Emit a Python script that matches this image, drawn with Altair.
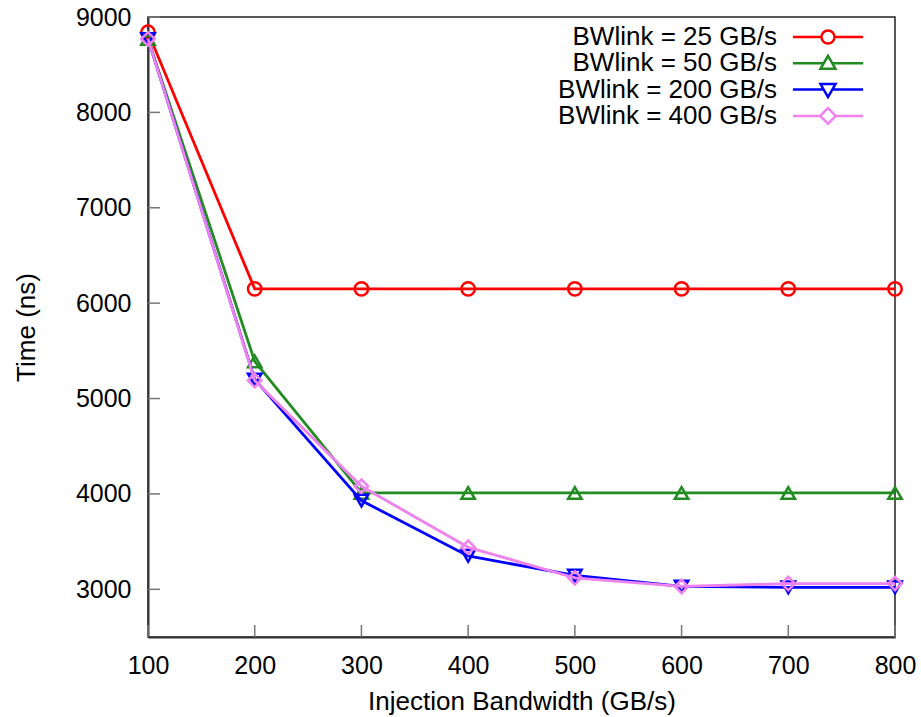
import altair as alt
import pandas as pd

# ---- data ----
injection_bw = [100, 200, 300, 400, 500, 600, 700, 800]
series_names = ["BWlink = 25 GB/s", "BWlink = 50 GB/s", "BWlink = 200 GB/s", "BWlink = 400 GB/s"]
time_25 = [8840, 6150, 6150, 6150, 6150, 6150, 6150, 6150]
time_50 = [8770, 5390, 4010, 4010, 4010, 4010, 4010, 4010]
time_200 = [8770, 5200, 3930, 3350, 3145, 3030, 3020, 3020]
time_400 = [8770, 5190, 4080, 3440, 3120, 3030, 3060, 3060]
x_ticks = [100, 200, 300, 400, 500, 600, 700, 800]
y_ticks = [3000, 4000, 5000, 6000, 7000, 8000, 9000]

colors = ["#ff0000", "#228b22", "#0000ff", "#ee82ee"]
shapes = ["circle", "triangle-up", "triangle-down", "diamond"]
# legend glyphs: line segment with the marker in the middle
legend_paths = [
    "M-5.4,0L-1,0M1,0L5.4,0M1,0C1,0.552,0.552,1,0,1C-0.552,1,-1,0.552,-1,0C-1,-0.552,-0.552,-1,0,-1C0.552,-1,1,-0.552,1,0Z",
    "M-5.4,0L-0.66,0M0.66,0L5.4,0M0,-1.15L1.15,0.85L-1.15,0.85Z",
    "M-5.4,0L-0.66,0M0.66,0L5.4,0M0,1.15L1.15,-0.85L-1.15,-0.85Z",
    "M-5.4,0L-1.2,0M1.2,0L5.4,0M0,-1.2L1.2,0L0,1.2L-1.2,0Z",
]

rows = []
for name, vals in zip(series_names, [time_25, time_50, time_200, time_400]):
    for i, (x, t) in enumerate(zip(injection_bw, vals)):
        rows.append({"series": name, "bw": x, "time": t, "idx": i})
df = pd.DataFrame(rows)

FONT = "Liberation Sans"

x_enc = alt.X(
    "bw:Q",
    scale=alt.Scale(domain=[100, 800], nice=False, zero=False),
    axis=alt.Axis(
        values=x_ticks, format="d", title="Injection Bandwidth (GB/s)", grid=False,
        ticks=False, labelPadding=16, titlePadding=10, labelFlush=False,
        domainColor="#333333", domainWidth=2,
    ),
)
y_enc = alt.Y(
    "time:Q",
    scale=alt.Scale(domain=[2500, 9000], nice=False, zero=False),
    axis=alt.Axis(
        values=y_ticks, format="d", title="Time (ns)", grid=False,
        ticks=False, labelPadding=17, titlePadding=36, labelFlush=False,
        domainColor="#333333", domainWidth=2,
    ),
)

base = alt.Chart(df)

# inward tick marks (gnuplot style)
y_tick_rules = alt.Chart(pd.DataFrame({"time": y_ticks})).mark_rule(
    color="#777777", strokeWidth=1.5
).encode(y=y_enc, x=alt.value(0), x2=alt.value(12))
x_tick_rules = alt.Chart(pd.DataFrame({"bw": x_ticks})).mark_rule(
    color="#777777", strokeWidth=1.5
).encode(x=x_enc, y=alt.value(620), y2=alt.value(608))

series_layers = []
for name, col, shp in zip(series_names, colors, shapes):
    sub = base.transform_filter(alt.datum.series == name)
    series_layers.append(
        sub.mark_line(color=col, strokeWidth=2.8).encode(x=x_enc, y=y_enc, order="idx:Q")
    )
    series_layers.append(
        sub.mark_point(shape=shp, color=col, filled=False, size=180, strokeWidth=2.5, opacity=1)
        .encode(x=x_enc, y=y_enc)
    )

legend_kwargs = dict(
    orient="none", legendX=367, legendY=7, title=None,
    labelFont=FONT, labelFontSize=26, labelColor="black", labelAlign="right",
    labelOffset={"expr": "-64"}, labelLimit=400, symbolOffset=300, symbolSize=169,
    symbolStrokeWidth=2.5, symbolOpacity=1, rowPadding=0.3, padding=0,
)

legend_layer = base.mark_point(filled=False, opacity=0, size=169, strokeWidth=2.5).encode(
    x=x_enc, y=y_enc,
    color=alt.Color("series:N", scale=alt.Scale(domain=series_names, range=colors),
                    legend=alt.Legend(**legend_kwargs)),
    shape=alt.Shape("series:N", scale=alt.Scale(domain=series_names, range=legend_paths),
                    legend=alt.Legend(**legend_kwargs)),
)

chart = (
    alt.layer(y_tick_rules, x_tick_rules, *series_layers, legend_layer)
    .properties(
        width=747, height=620,
        autosize=alt.AutoSizeParams(type="none"),
        padding={"left": 148, "top": 17, "right": 26, "bottom": 80},
        background="white",
    )
    .configure_view(stroke="#222222", strokeWidth=1.5)
    .configure_axis(
        labelFont=FONT, labelFontSize=25, labelColor="black",
        titleFont=FONT, titleFontSize=26, titleColor="black", titleFontWeight="normal",
    )
)

chart.save("out.html", embed_options={"renderer": "svg", "actions": False})
